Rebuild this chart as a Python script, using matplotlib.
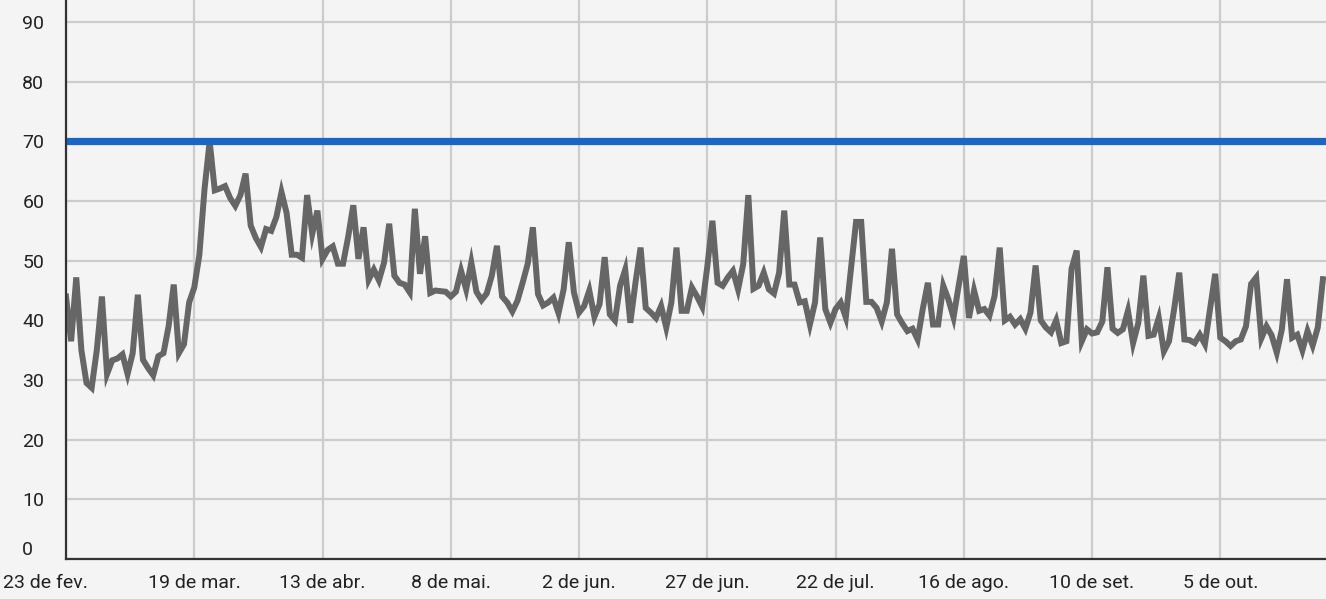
#!/usr/bin/env python3

import numpy as np
import pandas as pd
import matplotlib
matplotlib.use("Agg")
import matplotlib.pyplot as plt
import matplotlib.transforms as mtransforms


# ---------------- DATA ---------------- #

START_DATE = "2020-02-23"

VALUES = [
    44, 36.5, 47.2, 35, 29.5, 28.7, 35, 44, 31, 33.3,
    33.6, 34.3, 31, 34.5, 44.3, 33.4, 32, 30.8, 34, 34.5,
    39, 46, 34.5, 36, 43, 45.5, 51, 62, 70, 61.8,
    62.1, 62.5, 60.5, 59.2, 61, 64.6, 55.9, 53.8, 52.3, 55.3,
    55, 57.3, 61.5, 58, 51, 51, 50.5, 61, 54.5, 58.4,
    50.3, 51.8, 52.4, 49.5, 49.5, 54, 59.3, 50.3, 55.6, 46.8,
    48.5, 46.7, 49.7, 56.2, 47.5, 46.3, 46, 44.7, 58.7, 47.8,
    54.1, 44.6, 45, 44.9, 44.8, 44, 44.8, 48.3, 45.2, 49.7,
    44.8, 43.4, 44.5, 47.5, 52.5, 44, 43, 41.5, 43.3, 46.3,
    49.5, 55.6, 44.4, 42.5, 43, 43.8, 41.2, 45.2, 53.1, 44.7,
    41.3, 42.4, 45, 40.6, 42.7, 50.6, 41, 40, 45.8, 48.5,
    39.6, 46.3, 52.2, 42.1, 41.3, 40.4, 42.4, 38.8, 43, 52.2,
    41.6, 41.6, 45.5, 44, 42.3, 49, 56.7, 46.3, 45.8, 47.2,
    48.3, 45.2, 49.4, 61, 45.3, 45.8, 48, 45.2, 44.5, 48,
    58.4, 46, 46, 43, 43.2, 39.3, 43, 53.9, 41.9, 39.6,
    41.9, 43, 40.5, 48.6, 56.5, 56.5, 43.1, 43.1, 42.1, 39.8,
    43, 52, 41, 39.5, 38.2, 38.6, 36.8, 41.9, 46.3, 39.3,
    39.3, 45.8, 43.5, 40.5, 45.8, 50.8, 40.4, 45, 41.6, 41.9,
    40.8, 44.1, 52.2, 40, 40.6, 39.3, 40.2, 38.6, 41.3, 49.2,
    40, 38.8, 38, 40, 36.2, 36.5, 48.6, 51.7, 36.5, 38.5,
    37.8, 38, 39.8, 48.9, 38.6, 37.9, 38.5, 41.6, 36.2, 39.5,
    47.5, 37.4, 37.6, 40.4, 34.8, 36.5, 41.9, 48, 36.8, 36.7,
    36.2, 37.6, 36, 41.9, 47.8, 37.1, 36.5, 35.7, 36.5, 36.8,
    39, 46.1, 47.2, 37, 39, 37.5, 34.6, 38.5, 46.9, 37.1,
    37.6, 35, 38.2, 35.8, 38.8, 46.9,
]

TARGET = 70

TICK_LABELS = [
    "23 de fev.", "19 de mar.", "13 de abr.", "8 de mai.", "2 de jun.",
    "27 de jun.", "22 de jul.", "16 de ago.", "10 de set.", "5 de out.",
]

Y_TICKS = list(range(0, 100, 10))


# ---------------- PLOT ---------------- #

plt.rcParams["font.family"] = ["Roboto", "DejaVu Sans"]

dates = pd.date_range(START_DATE, periods=len(VALUES), freq="D")
tick_dates = pd.date_range(START_DATE, periods=len(TICK_LABELS), freq="25D")

bg = "#f4f4f4"
fig = plt.figure(figsize=(13.26, 5.99), dpi=100, facecolor=bg)
ax = fig.add_axes([66 / 1326, 40 / 599, 1 - 66 / 1326, 559 / 599])
ax.set_facecolor(bg)

ax.plot(dates, VALUES, color="#666666", linewidth=4.3, zorder=3,
        solid_joinstyle="miter")
ax.axhline(TARGET, color="#1a66c4", linewidth=5.2, zorder=4)

ax.set_xlim(dates[0], dates[0] + pd.Timedelta(days=245.6))
ax.set_ylim(0, 93.7)

ax.set_xticks(tick_dates)
ax.set_xticklabels(TICK_LABELS)
ax.set_yticks(Y_TICKS)
ax.set_yticklabels([str(v) for v in Y_TICKS])

ax.grid(True, color="#cccccc", linewidth=1.6, zorder=0)
ax.set_axisbelow(True)

for side in ["top", "right"]:
    ax.spines[side].set_visible(False)
for side in ["left", "bottom"]:
    ax.spines[side].set_color("#333333")
    ax.spines[side].set_linewidth(1.6)
    ax.spines[side].set_zorder(5)

ax.tick_params(axis="both", length=0, labelsize=14, labelcolor="#222222")
ax.tick_params(axis="x", pad=11)
ax.tick_params(axis="y", pad=31.5)
for lbl in ax.get_yticklabels():
    lbl.set_horizontalalignment("left")

# first labels are nudged like in the original
ylabels = ax.get_yticklabels()
ylabels[0].set_verticalalignment("bottom")
xlabels = ax.get_xticklabels()
xlabels[0].set_transform(xlabels[0].get_transform() +
                         mtransforms.ScaledTranslation(-20 / 100, 0, fig.dpi_scale_trans))

fig.savefig("out.png", dpi=100, facecolor=bg)
plt.close(fig)
